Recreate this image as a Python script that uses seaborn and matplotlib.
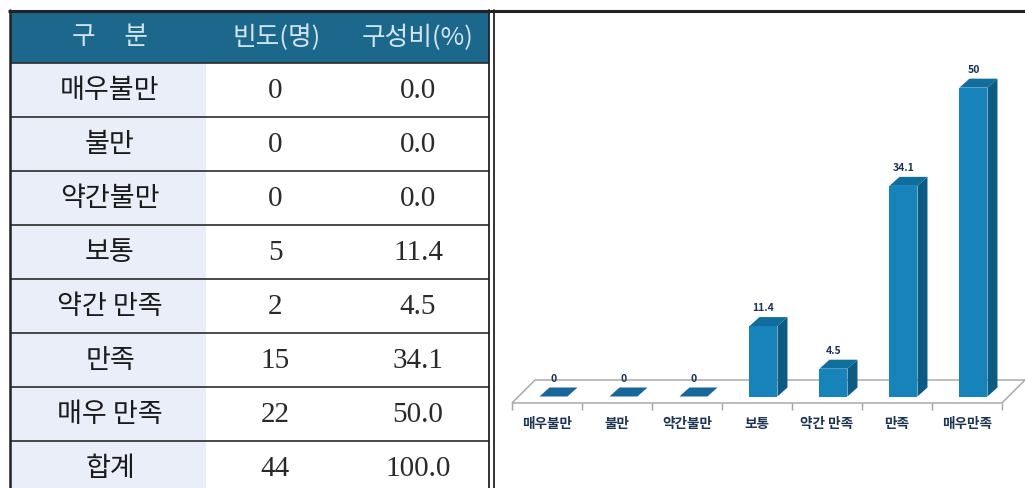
import numpy as np
import pandas as pd
import seaborn as sns
import matplotlib
matplotlib.use('Agg')
import matplotlib.pyplot as plt
from matplotlib.patches import Polygon, Rectangle

# ---------------- data ----------------
table_header = ['구     분', '빈도(명)', '구성비(%)']
categories = ['매우불만', '불만', '약간불만', '보통', '약간 만족', '만족', '매우 만족']
chart_labels = ['매우불만', '불만', '약간불만', '보통', '약간 만족', '만족', '매우만족']
counts = [0, 0, 0, 5, 2, 15, 22]
percents = [0.0, 0.0, 0.0, 11.4, 4.5, 34.1, 50.0]
total_label = '합계'
total_count = 44
total_percent = 100.0

# ---------------- style ----------------
sns.set_theme(style='white')
plt.rcParams['font.family'] = ['Noto Sans CJK KR', 'DejaVu Sans']

W, H = 1025, 488
fig = plt.figure(figsize=(W / 100, H / 100), dpi=100)
fig.patch.set_facecolor('white')

HEADER_C = '#1c688c'
HEADER_TXT = '#d3e4ef'
SHADE_C = '#eaeef9'
LINE_C = '#2b2b2b'
FRONT = '#1683ba'
SIDE = '#0d5b82'
TOP = '#106e9f'
FLAT = '#17679a'
LABEL_C = '#1c3352'

# ---------------- table (pixel coordinates) ----------------
bg = fig.add_axes([0, 0, 1, 1])
bg.set_xlim(0, W)
bg.set_ylim(H, 0)
bg.axis('off')

tx0, tx1, c1_end = 10, 489, 205
top, header_h, row_h = 12, 51, 54
col_x = [110, 277, 418]

bg.add_patch(Rectangle((tx0, top), tx1 - tx0, header_h, facecolor=HEADER_C, edgecolor='none'))
bg.add_patch(Rectangle((tx0 + 1, top + header_h), c1_end - tx0, H - top - header_h,
                       facecolor=SHADE_C, edgecolor='none'))

hy = top + header_h / 2
for x, t in zip(col_x, table_header):
    bg.text(x, hy, t, ha='center', va='center', fontsize=18.5, color=HEADER_TXT,
            fontweight='light')

rows = [(c, n, p) for c, n, p in zip(categories, counts, percents)]
rows.append((total_label, total_count, total_percent))
for k, (c, n, p) in enumerate(rows):
    y0 = top + header_h + k * row_h
    cy = y0 + row_h / 2
    bg.plot([tx0, tx1], [y0, y0], color=LINE_C, lw=1.2, solid_capstyle='butt')
    bg.text(col_x[0], cy, c, ha='center', va='center', fontsize=19.5, color='#1a1a1a',
            fontweight='medium')
    bg.text(col_x[1] - 2, cy + 1, f'{n}', ha='center', va='center', fontsize=21,
            color='#2a2a2a', family=['Liberation Serif', 'DejaVu Serif'])
    bg.text(col_x[2], cy + 1, f'{p:.1f}', ha='center', va='center', fontsize=21,
            color='#2a2a2a', family=['Liberation Serif', 'DejaVu Serif'])

# borders
bg.plot([8, W], [10.5, 10.5], color='#222222', lw=2.2, solid_capstyle='butt')
bg.plot([tx0, tx0], [10, H], color='#222222', lw=1.8)
bg.plot([tx1, tx1], [10, H], color='#222222', lw=1.3)
bg.plot([494, 494], [10, H], color='#222222', lw=1.3)

# ---------------- bar chart ----------------
ax = fig.add_axes([493 / W, (H - 403) / H, (W - 493) / W, (403 - 12) / H])
ax.set_facecolor('none')
df = pd.DataFrame({'구분': chart_labels, '구성비': percents})
sns.barplot(data=df, x='구분', y='구성비', ax=ax, color=FRONT, saturation=1,
            width=0.4, edgecolor='none', linewidth=0, zorder=3)
ax.set_xlim(-0.771, 6.829)
ax.set_ylim(0, 63.3)

bb = ax.get_window_extent()
x0, x1 = ax.get_xlim()
y0, y1 = ax.get_ylim()
px_x = (x1 - x0) / bb.width
px_y = (y1 - y0) / bb.height

n = len(chart_labels)
bars = list(ax.patches)

# floor
fd = 23
floor = Polygon([(-0.5, 0), (n - 0.5, 0), (n - 0.5 + fd * px_x, fd * px_y),
                 (-0.5 + fd * px_x, fd * px_y)], closed=True, facecolor='white',
                edgecolor='#a3a3a3', lw=1.0, zorder=1, clip_on=False)
ax.add_patch(floor)

# 3D faces
inset = 6.5
bdx, bdy = 10 * px_x, 9 * px_y
for p, v in zip(bars, percents):
    p.set_x(p.get_x() + inset * px_x)
    p.set_y(inset * px_y)
    x, w, yb, h = p.get_x(), p.get_width(), p.get_y(), p.get_height()
    yt = yb + h
    topc = FLAT if h == 0 else TOP
    ax.add_patch(Polygon([(x, yt), (x + w, yt), (x + w + bdx, yt + bdy), (x + bdx, yt + bdy)],
                         closed=True, facecolor=topc, edgecolor='none', zorder=3))
    if h > 0:
        ax.add_patch(Polygon([(x + w, yb), (x + w + bdx, yb + bdy), (x + w + bdx, yt + bdy),
                              (x + w, yt)], closed=True, facecolor=SIDE, edgecolor='none',
                             zorder=3))
    ax.text(x + w / 2, yt + bdy + 4 * px_y, f'{v:g}', ha='center', va='bottom',
            fontsize=7.5, fontweight='bold', color=LABEL_C)

ax.set_xticks(np.arange(n))
ax.set_xticklabels(chart_labels)
ax.set_xticks(np.arange(n + 1) - 0.5, minor=True)
ax.tick_params(axis='x', which='major', length=0, pad=10, labelsize=9.8, labelcolor=LABEL_C)
ax.tick_params(axis='x', which='minor', length=5, width=1, color='#a3a3a3', direction='out',
               bottom=True)
for lab in ax.get_xticklabels():
    lab.set_fontweight('bold')
ax.set_yticks([])
ax.set_xlabel('')
ax.set_ylabel('')
for s in ax.spines.values():
    s.set_visible(False)

fig.savefig('out.png', dpi=100, facecolor='white')
